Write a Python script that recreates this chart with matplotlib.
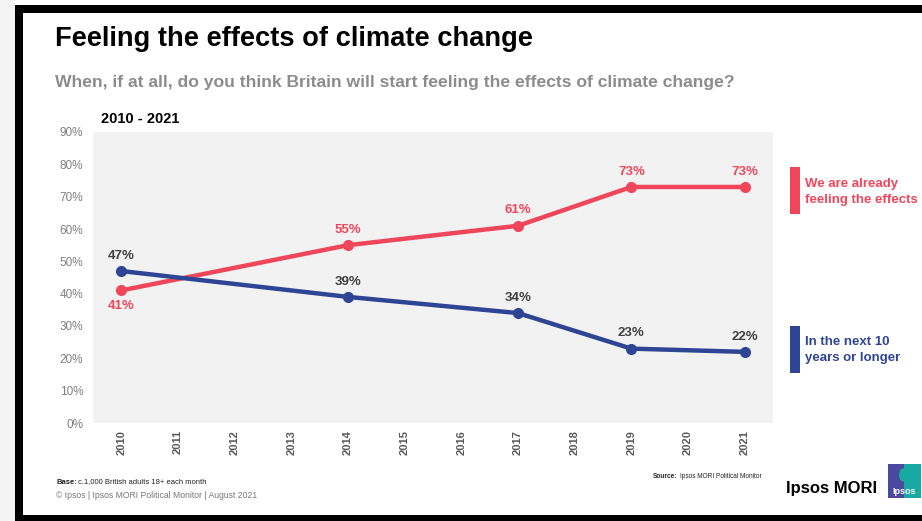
import matplotlib.pyplot as plt
from matplotlib.patches import Rectangle, Ellipse

plt.rcParams['font.family'] = ['Liberation Sans', 'DejaVu Sans']

# Political Monitor series
years = [2010, 2014, 2017, 2019, 2021]
already = [41, 55, 61, 73, 73]
next_10 = [47, 39, 34, 23, 22]
all_years = list(range(2010, 2022))
y_ticks = [0, 10, 20, 30, 40, 50, 60, 70, 80, 90]

red = '#f0465a'
blue = '#2e4596'

W, H = 922, 521
fig = plt.figure(figsize=(W / 100, H / 100), dpi=100)
fig.patch.set_facecolor('white')

# slide frame, drawn in pixel coordinates
bg = fig.add_axes([0, 0, 1, 1])
bg.set_xlim(0, W)
bg.set_ylim(H, 0)
bg.axis('off')
bg.add_patch(Rectangle((0, 0), 15, H, color='#f4f4f4', lw=0))
bg.add_patch(Rectangle((15, 5), W - 15, 8, color='black', lw=0))
bg.add_patch(Rectangle((15, 5), 8, H - 5, color='black', lw=0))
bg.add_patch(Rectangle((15, 515), W - 15, 6, color='black', lw=0))

# main chart
ax = fig.add_axes([93 / W, (H - 423) / H, 680 / W, (423 - 132) / H])
ax.set_facecolor('#f2f2f2')
for s in ax.spines.values():
    s.set_visible(False)
ax.set_xlim(2009.5, 2021.5)
ax.set_ylim(0, 90)
ax.set_yticks(y_ticks)
ax.set_yticklabels([f'{v}%' for v in y_ticks], color='#7f7f7f', fontsize=8.5)
ax.set_xticks(all_years)
ax.set_xticklabels([str(y) for y in all_years], rotation=90, color='#595959',
                   fontsize=8, fontweight='bold')
ax.tick_params(length=0, axis='y', pad=7)
ax.tick_params(length=0, axis='x', pad=5)
ax.axhline(0, color='#fafafa', lw=1)

ax.plot(years, already, color=red, lw=3.2, marker='o', ms=7, zorder=3)
ax.plot(years, next_10, color=blue, lw=3.2, marker='o', ms=7, zorder=3)

for x, v in zip(years, already):
    dy = -11 if x == 2010 else 11
    ax.annotate(f'{v}%', (x, v), xytext=(0, dy), textcoords='offset points',
                ha='center', va='center', color=red, fontsize=9.5,
                fontweight='bold')
for x, v in zip(years, next_10):
    ax.annotate(f'{v}%', (x, v), xytext=(0, 11), textcoords='offset points',
                ha='center', va='center', color='#404040', fontsize=9.5,
                fontweight='bold')

# legend bars
bg.add_patch(Rectangle((790, 167), 10, 47, color=red, lw=0))
bg.add_patch(Rectangle((790, 326), 10, 47, color=blue, lw=0))
bg.text(805, 192, 'We are already\nfeeling the effects', color=red,
        fontsize=9.5, fontweight='bold', va='center', ha='left',
        linespacing=1.5)
bg.text(805, 350, 'In the next 10\nyears or longer', color=blue,
        fontsize=9.5, fontweight='bold', va='center', ha='left',
        linespacing=1.5)

# titles
bg.text(55, 39, 'Feeling the effects of climate change', fontsize=19.6,
        fontweight='bold', va='center', ha='left', color='black')
bg.text(55, 82, 'When, if at all, do you think Britain will start feeling '
        'the effects of climate change?', fontsize=12.6, fontweight='bold',
        va='center', ha='left', color='#8c8c8c')
bg.text(101, 119, '2010 - 2021', fontsize=10.5, fontweight='bold',
        va='center', ha='left', color='black')

# footer
bg.text(56, 482, 'Base:', fontsize=5.5, fontweight='bold',
        va='center', ha='left', color='#222222')
bg.text(78, 482, 'c.1,000 British adults 18+ each month',
        fontsize=5.5, va='center', ha='left', color='#222222')
bg.text(56, 495, '© Ipsos | Ipsos MORI Political Monitor | August 2021',
        fontsize=6.2, va='center', ha='left', color='#777777')
bg.text(653, 476, 'Source:', fontsize=4.7, fontweight='bold',
        va='center', ha='left', color='#222222')
bg.text(762, 476, 'Ipsos MORI Political Monitor', fontsize=4.7,
        va='center', ha='right', color='#222222')
bg.text(786, 489, 'Ipsos MORI', fontsize=12, fontweight='bold',
        va='center', ha='left', color='black')

# logo
bg.add_patch(Rectangle((888, 464), 16, 34, color='#4b48a0', lw=0))
bg.add_patch(Rectangle((904, 464), 17, 34, color='#17a9a2', lw=0))
bg.add_patch(Ellipse((903, 475), 8, 13, color='#17a9a2', lw=0))
bg.text(904, 491, 'Ipsos', fontsize=6.5, fontweight='bold', color='white',
        va='center', ha='center')

fig.savefig('out.png', dpi=100)
